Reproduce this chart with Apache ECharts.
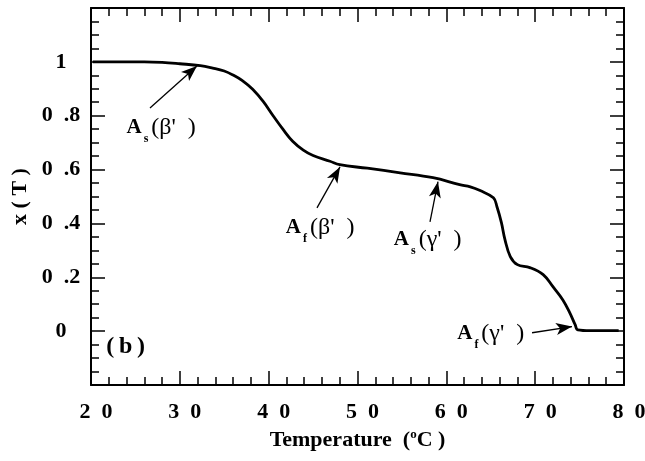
<!DOCTYPE html>
<html>
<head>
<meta charset="utf-8">
<script src="https://cdn.jsdelivr.net/npm/echarts@6/dist/echarts.min.js"></script>
<style>
  html, body { margin: 0; padding: 0; background: #fff; }
  #chart { width: 645px; height: 461px; }
</style>
</head>
<body>
<div id="chart"></div>
<script>
// Transformed fraction x(T) versus temperature
const temps = [20.2, 22, 24, 26, 28, 30, 32.3, 33.7, 35.0, 36.0, 37.0, 38.2, 39.4, 40.5, 41.6, 42.7, 43.9, 45.0, 46.9, 48.0, 51.1, 54.8, 58.5, 61.5, 62.7, 63.8, 65.3, 65.7, 66.2, 66.6, 67.2, 68.0, 69.4, 70.9, 72.0, 73.1, 73.9, 74.5, 74.8, 76.2, 78, 79.4];
const fractions = [1.0, 1.0, 1.0, 1.0, 0.998, 0.993, 0.986, 0.977, 0.966, 0.951, 0.931, 0.898, 0.852, 0.80, 0.75, 0.705, 0.672, 0.652, 0.631, 0.618, 0.605, 0.588, 0.57, 0.544, 0.536, 0.522, 0.495, 0.462, 0.403, 0.34, 0.277, 0.247, 0.236, 0.21, 0.165, 0.117, 0.068, 0.024, 0.005, 0.002, 0.002, 0.002];

// Transition-point annotations: subscript, phase, text centre, arrow tail, arrow head
const phaseSub = ['s', 'f', 's', 'f'];
const phaseName = ['β', 'β', 'γ', 'γ'];
const labelAt = [[27.9, 0.755], [45.8, 0.384], [57.9, 0.34], [65.0, -0.009]];
const arrowFrom = [[26.64, 0.829], [45.44, 0.458], [58.16, 0.406], [69.65, -0.006]];
const arrowTo = [[31.93, 0.985], [48.03, 0.61], [59.06, 0.555], [74.15, 0.017]];
const panelTag = '(\u2009b\u2009)';
const panelTagAt = [23.9, -0.058];

const xTicks = { min: 20, max: 80, step: 10 };
const yTicks = { min: -0.2, max: 1.2, step: 0.2 };

const FONT = '"Liberation Serif", "Times New Roman", serif';

// wide, evenly spaced numerals: "20" -> "2 0", "0.8" -> "0 .8"
function spaced(v) {
  const s = String(Math.round(v * 10) / 10);
  return s.replace(/(\d)(?=\d)/g, '$1\u2002').replace('.', '\u2002.');
}

const chart = echarts.init(document.getElementById('chart'), null, { renderer: 'canvas' });

const tickStyle = { show: true, inside: true, length: 14, lineStyle: { color: '#000', width: 1.5 } };
const minorStyle = { show: true, length: 8, lineStyle: { color: '#000', width: 1.5 } };
const lineStyleAxis = { show: true, onZero: false, lineStyle: { color: '#000', width: 2 } };

const rich = {
  A: { fontFamily: FONT, fontWeight: 'bold', fontSize: 21, color: '#000' },
  sub: { fontFamily: FONT, fontWeight: 'bold', fontSize: 12, color: '#000', padding: [22, 3, 0, 2] },
  g: { fontFamily: FONT, fontWeight: 'normal', fontSize: 24, color: '#000' }
};

const pointMarks = labelAt.map((c, i) => ({
  coord: c,
  label: {
    show: true,
    position: 'inside',
    formatter: '{A|A}{sub|' + phaseSub[i] + '}{g|(' + phaseName[i] + '\'  )}',
    rich: rich
  }
}));
pointMarks.push({
  coord: panelTagAt,
  label: {
    show: true, position: 'inside', formatter: panelTag,
    fontFamily: FONT, fontWeight: 'bold', fontSize: 24, color: '#000'
  }
});

const arrowMarks = arrowFrom.map((p, i) => [{ coord: p }, { coord: arrowTo[i] }]);

chart.setOption({
  animation: false,
  backgroundColor: '#fff',
  grid: { left: 91, right: 21, top: 8, bottom: 76, containLabel: false, outerBoundsMode: 'none' },
  xAxis: [
    {
      type: 'value', position: 'bottom',
      min: xTicks.min, max: xTicks.max, interval: xTicks.step,
      axisLine: lineStyleAxis, axisTick: tickStyle,
      minorTick: Object.assign({ splitNumber: 5 }, minorStyle),
      splitLine: { show: false },
      axisLabel: {
        formatter: spaced, margin: 16, padding: [0, 0, 0, 10],
        fontFamily: FONT, fontWeight: 'bold', fontSize: 22, color: '#000'
      },
      name: '{t|Temperature  (}{sup|o}{t|C )}',
      nameLocation: 'middle', nameGap: 40,
      nameTextStyle: {
        rich: {
          t: { fontFamily: FONT, fontWeight: 'bold', fontSize: 22, color: '#000' },
          sup: { fontFamily: FONT, fontWeight: 'bold', fontSize: 13, color: '#000', padding: [0, 0, 12, 0] }
        }
      }
    },
    {
      type: 'value', position: 'top',
      min: xTicks.min, max: xTicks.max, interval: xTicks.step,
      axisLine: lineStyleAxis, axisTick: tickStyle,
      minorTick: Object.assign({ splitNumber: 5 }, minorStyle),
      splitLine: { show: false }, axisLabel: { show: false }
    }
  ],
  yAxis: [
    {
      type: 'value', position: 'left',
      min: yTicks.min, max: yTicks.max, interval: yTicks.step,
      axisLine: lineStyleAxis, axisTick: tickStyle,
      minorTick: Object.assign({ splitNumber: 4 }, minorStyle),
      splitLine: { show: false },
      axisLabel: {
        formatter: v => (v < -0.1 || v > 1.1) ? '' : spaced(v),
        margin: 30, align: 'center', padding: [10, 0, 0, 0],
        fontFamily: FONT, fontWeight: 'bold', fontSize: 22, color: '#000'
      },
      name: 'x ( T )', nameLocation: 'middle', nameGap: 59,
      nameTextStyle: { fontFamily: FONT, fontWeight: 'bold', fontSize: 22, color: '#000' }
    },
    {
      type: 'value', position: 'right',
      min: yTicks.min, max: yTicks.max, interval: yTicks.step,
      axisLine: lineStyleAxis, axisTick: tickStyle,
      minorTick: Object.assign({ splitNumber: 4 }, minorStyle),
      splitLine: { show: false }, axisLabel: { show: false }
    }
  ],
  series: [
    {
      type: 'line',
      data: temps.map((t, i) => [t, fractions[i]]),
      xAxisIndex: 0, yAxisIndex: 0,
      smooth: 0.4,
      showSymbol: false, silent: true,
      lineStyle: { color: '#000', width: 2.8 },
      markLine: {
        silent: true, animation: false,
        symbol: ['none', 'arrow'], symbolSize: [9, 16],
        label: { show: false },
        lineStyle: { color: '#000', width: 1.3, type: 'solid' },
        data: arrowMarks
      },
      markPoint: {
        silent: true, animation: false,
        symbol: 'circle', symbolSize: 1,
        itemStyle: { color: 'rgba(0,0,0,0)' },
        data: pointMarks
      }
    }
  ]
});
</script>
</body>
</html>
